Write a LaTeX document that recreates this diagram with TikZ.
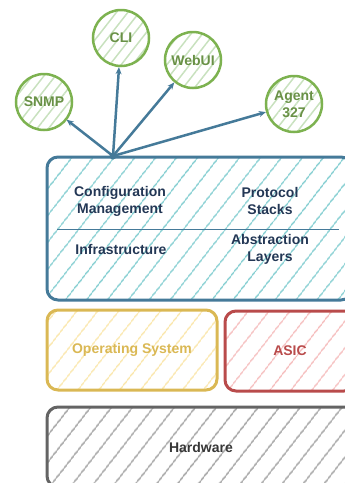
\documentclass[tikz,border=0pt]{standalone}
\usepackage{fontspec}
\setmainfont{Liberation Sans}
\usetikzlibrary{arrows.meta,patterns.meta}

\definecolor{stackblue}{RGB}{69,122,153}
\definecolor{stackhatch}{RGB}{130,205,208}
\definecolor{stacktext}{RGB}{35,55,85}
\definecolor{ifgreen}{RGB}{125,178,80}
\definecolor{ifhatch}{RGB}{200,225,190}
\definecolor{iftext}{RGB}{105,145,70}
\definecolor{osyellow}{RGB}{218,184,84}
\definecolor{oshatch}{RGB}{250,230,170}
\definecolor{asicred}{RGB}{185,75,75}
\definecolor{asichatch}{RGB}{245,188,188}
\definecolor{hwgray}{RGB}{100,100,100}
\definecolor{hwhatch}{RGB}{165,165,165}
\definecolor{hwtext}{RGB}{55,55,55}

\tikzset{
  hatch/.style args={#1/#2}{pattern={Lines[angle=52,distance=#2,line width=1.5pt]},pattern color=#1},
  iface/.style={circle,draw=ifgreen,line width=2.5pt,minimum size=56pt,inner sep=0pt,
    hatch=ifhatch/9pt,text=iftext,align=center},
  layer/.style={draw=#1,rounded corners=11pt,line width=3pt,inner sep=0pt},
  lbl/.style={align=center,text=#1},
  link/.style={-{Stealth[length=7pt,width=6pt]},draw=stackblue,line width=2.5pt},
}

\begin{document}
\begin{tikzpicture}[x=1pt,y=-1pt,font=\fontsize{14}{17}\selectfont\bfseries]
  \useasboundingbox (0,0) rectangle (345,483);

  % layers
  \node[layer=stackblue,hatch=stackhatch/17pt,minimum width=305pt,minimum height=143pt]
    (stack) at (199.5,228.5) {};
  \node[layer=osyellow,hatch=oshatch/17pt,minimum width=170pt,minimum height=80pt,text=osyellow]
    (os) at (132,350) {Operating System};
  \node[layer=asicred,hatch=asichatch/17pt,minimum width=130pt,minimum height=80pt,text=asicred]
    (asic) at (290,351) {ASIC};
  \node[layer=hwgray,hatch=hwhatch/17pt,minimum width=308pt,minimum height=80pt,text=hwtext]
    (hw) at (201,447) {Hardware};

  % inside the stack
  \coordinate (divl) at (57,229);
  \coordinate (divr) at (339,229);
  \draw[stackblue,line width=1pt] (divl) -- (divr);
  \foreach \x/\y/\name/\txt in {120/201/cfg/{Configuration\\Management},
                               270/201/proto/{Protocol\\Stacks},
                               121/249/infra/{Infrastructure},
                               270/249/abstr/{Abstraction\\Layers}} {
    \node[lbl=stacktext] (\name) at (\x,\y) {\txt};
  }

  % interfaces
  \node[iface] (snmp) at (44,102) {SNMP};
  \node[iface] (cli) at (121,38) {CLI};
  \node[iface] (webui) at (193,60) {WebUI};
  \node[iface] (agent) at (294,104) {Agent\\327};

  \coordinate (hub) at (113,156);
  \fill[stackblue] (hub) circle (3.5pt);
  \foreach \dst in {snmp,cli,webui,agent} {
    \draw[link] (hub) -- (\dst);
  }
\end{tikzpicture}
\end{document}
